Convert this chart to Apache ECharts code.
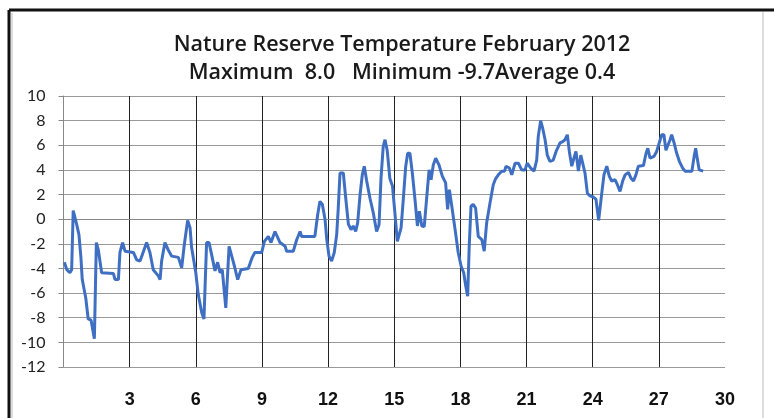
<!DOCTYPE html>
<html>
<head>
<meta charset="utf-8">
<script src="https://cdn.jsdelivr.net/npm/echarts@6/dist/echarts.min.js"></script>
<style>
  html, body { margin: 0; padding: 0; background: #fff; }
  #chart { width: 774px; height: 418px; }
</style>
</head>
<body>
<div id="chart"></div>
<script>
// day of month (fractional) and temperature readings
const days = [
  0.04, 0.15, 0.29, 0.37, 0.44, 0.6, 0.7, 0.79, 0.85, 1.01, 1.12, 1.25, 1.4, 1.49, 1.58, 1.73,
  2.26, 2.34, 2.49, 2.56, 2.68, 2.79, 3.17, 3.32, 3.47, 3.57, 3.77, 3.92, 4.07, 4.3, 4.38, 4.45,
  4.6, 4.75, 4.91, 5.21, 5.36, 5.48, 5.63, 5.74, 5.81, 6.0, 6.11, 6.27, 6.37, 6.49, 6.6, 6.72,
  6.87, 6.99, 7.1, 7.2, 7.36, 7.51, 7.63, 7.75, 7.9, 8.05, 8.38, 8.56, 8.68, 8.99, 9.11, 9.29,
  9.41, 9.59, 9.82, 10.05, 10.12, 10.42, 10.58, 10.73, 10.8, 11.4, 11.53, 11.63, 11.74, 11.86,
  11.94, 12.04, 12.16, 12.28, 12.39, 12.46, 12.54, 12.69, 12.8, 12.92, 13.04, 13.14, 13.25,
  13.34, 13.45, 13.55, 13.64, 13.75, 13.9, 14.05, 14.2, 14.31, 14.4, 14.5, 14.58, 14.68, 14.8,
  14.92, 15.03, 15.14, 15.31, 15.41, 15.52, 15.61, 15.71, 15.82, 15.94, 16.05, 16.14, 16.25,
  16.36, 16.47, 16.58, 16.67, 16.77, 16.88, 17.03, 17.18, 17.33, 17.42, 17.5, 17.61, 17.76,
  17.9, 18.03, 18.15, 18.24, 18.33, 18.4, 18.48, 18.58, 18.69, 18.81, 18.97, 19.08, 19.19,
  19.34, 19.49, 19.6, 19.72, 19.87, 20.0, 20.07, 20.22, 20.33, 20.48, 20.63, 20.78, 20.93,
  21.03, 21.19, 21.34, 21.46, 21.53, 21.64, 21.73, 21.84, 21.94, 22.06, 22.21, 22.34, 22.52,
  22.64, 22.74, 22.85, 22.94, 23.05, 23.15, 23.24, 23.35, 23.46, 23.55, 23.65, 23.76, 23.88,
  24.03, 24.15, 24.27, 24.41, 24.51, 24.64, 24.75, 24.86, 25.01, 25.12, 25.24, 25.36, 25.47,
  25.62, 25.73, 25.85, 25.96, 26.07, 26.3, 26.42, 26.5, 26.6, 26.78, 26.9, 27.02, 27.13, 27.23,
  27.32, 27.38, 27.51, 27.58, 27.69, 27.81, 27.93, 28.08, 28.19, 28.5, 28.6, 28.67, 28.74,
  28.83, 29.01
];
const temps = [
  -3.5, -4.1, -4.35, -4.1, 0.7, -0.44, -1.25, -3.1, -4.9, -6.4, -8.1, -8.2, -9.7, -1.9, -2.5, -4.35,
  -4.4, -4.9, -4.9, -2.7, -1.9, -2.6, -2.7, -3.3, -3.4, -2.9, -1.9, -2.7, -4.1, -4.6, -4.9, -3.4,
  -1.9, -2.5, -3.0, -3.1, -3.95, -2.05, -0.1, -0.7, -2.3, -4.35, -6.1, -7.6, -8.1, -1.9, -1.9, -2.9,
  -4.2, -3.5, -4.35, -4.1, -7.2, -2.2, -3.0, -3.8, -4.9, -4.1, -4.0, -3.1, -2.7, -2.7, -1.8, -1.4,
  -1.9, -1.0, -1.9, -2.2, -2.6, -2.6, -1.65, -1.0, -1.4, -1.4, 0.4, 1.45, 1.2, 0.0,
  -1.65, -3.0, -3.4, -2.7, -1.25, 0.9, 3.75, 3.75, 1.7, -0.4, -0.85, -0.55, -1.0,
  -0.3, 2.0, 3.6, 4.3, 3.1, 1.7, 0.5, -1.0, -0.45, 3.35, 5.9, 6.45, 5.6, 3.3,
  2.7, 0.5, -1.8, -0.7, 1.6, 4.3, 5.35, 5.35, 3.75, 1.6, -0.55, 0.65, -0.55,
  -0.6, 1.7, 4.0, 3.2, 4.4, 4.95, 4.4, 3.5, 2.95, 0.8, 2.4, 1.05, -0.85,
  -2.7, -3.8, -4.35, -5.4, -6.25, -2.2, 1.05, 1.2, 0.9, -1.4, -1.65, -2.6, -0.3,
  1.3, 2.8, 3.3, 3.6, 3.9, 3.9, 4.3, 4.15, 3.6, 4.55, 4.55, 4.0, 4.0,
  4.55, 4.15, 3.9, 4.8, 6.7, 8.0, 7.4, 6.45, 5.2, 4.7, 4.8, 5.5, 6.2,
  6.3, 6.45, 6.85, 5.5, 4.3, 4.95, 5.5, 3.9, 5.2, 5.35, 3.75, 2.1, 1.9,
  1.8, 1.6, -0.1, 2.1, 3.6, 4.3, 3.5, 3.1, 3.2, 2.8, 2.25, 3.1, 3.6,
  3.8, 3.35, 3.1, 3.6, 4.3, 4.35, 5.35, 5.75, 4.95, 5.1, 5.5, 6.2, 6.85, 6.85,
  5.6, 5.5, 6.45, 6.85, 6.2, 5.35, 4.7, 4.15, 3.9, 3.9, 5.1, 5.75, 4.95,
  4.0, 3.9
];
const titleLines = [
  "Nature Reserve Temperature February 2012",
  "Maximum  8.0   Minimum -9.7Average 0.4"
];

const chart = echarts.init(document.getElementById("chart"), null, { renderer: "canvas" });

chart.setOption({
  animation: false,
  backgroundColor: "#fff",
  title: {
    text: titleLines.join("\n"),
    left: 397,
    textAlign: "center",
    top: 26,
    textStyle: {
      fontFamily: "'Open Sans', Lato, sans-serif",
      fontWeight: 600,
      fontSize: 21.5,
      lineHeight: 28,
      color: "#1a1a1a"
    }
  },
  graphic: [
    { type: "line", shape: { x1: 9, y1: 10, x2: 774, y2: 10 }, style: { stroke: "#111", lineWidth: 3 } },
    { type: "line", shape: { x1: 9, y1: 10, x2: 9, y2: 418 }, style: { stroke: "#111", lineWidth: 3 } },
    { type: "line", shape: { x1: 12, y1: 13, x2: 12, y2: 418 }, style: { stroke: "#bbb", lineWidth: 1 } },
    { type: "line", shape: { x1: 763, y1: 12, x2: 763, y2: 418 }, style: { stroke: "#ddd", lineWidth: 2 } }
  ],
  grid: { left: 63.5, right: 49, top: 96, bottom: 51 },
  xAxis: {
    type: "value",
    min: 0,
    max: 30,
    interval: 3,
    axisLine: { show: true, lineStyle: { color: "#888", width: 1 } },
    axisTick: { show: false },
    splitLine: {
      show: true,
      showMinLine: false,
      showMaxLine: false,
      lineStyle: { color: "#222", width: 1 }
    },
    axisLabel: {
      showMinLabel: false,
      margin: 24,
      fontFamily: "'Liberation Sans', Arial, sans-serif",
      fontWeight: "bold",
      fontSize: 18,
      color: "#111"
    }
  },
  yAxis: {
    type: "value",
    min: -12,
    max: 10,
    interval: 2,
    axisLine: { show: true, lineStyle: { color: "#888", width: 1 } },
    axisTick: { show: true, length: 5, lineStyle: { color: "#888" } },
    splitLine: { show: true, lineStyle: { color: "#999", width: 1 } },
    axisLabel: {
      margin: 18,
      fontFamily: "Lato, 'Open Sans', sans-serif",
      fontSize: 16,
      color: "#222"
    }
  },
  series: [
    {
      type: "line",
      data: days.map((d, i) => [d, temps[i]]),
      showSymbol: false,
      lineStyle: { color: "#3f6fc2", width: 3 },
      itemStyle: { color: "#3f6fc2" }
    }
  ]
});
</script>
</body>
</html>
